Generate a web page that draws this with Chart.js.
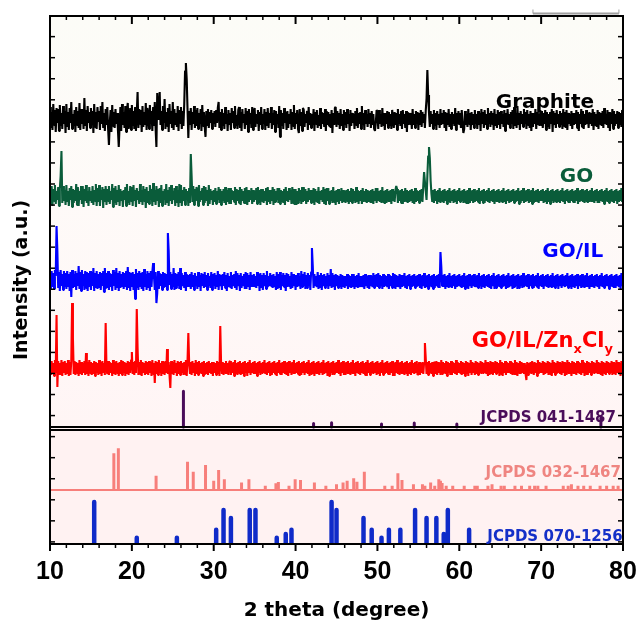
<!DOCTYPE html>
<html><head><meta charset="utf-8">
<script src="https://cdn.jsdelivr.net/npm/chart.js@4.4.1/dist/chart.umd.min.js"></script>
<style>html,body{margin:0;padding:0;background:#fff;}canvas{display:block;}</style>
</head><body>
<canvas id="c" width="636" height="623"></canvas>
<script>
// ---------------- DATA ----------------
// XRD scans sampled from 10° to 80° every 0.1° (701 points); raw counts, background level 40
const START_2THETA = 10, STEP_2THETA = 0.1, BACKGROUND = 40;
const graphite = [
52,31,47,29,55,34,49,27,51,36,
50,28,54,33,46,30,53,35,48,26,
55,32,47,29,51,36,57,30,45,33,
49,27,52,34,48,31,56,29,50,35,
46,30,61,33,49,28,53,36,47,31,
51,34,48,26,55,32,47,30,52,37,
48,29,53,35,57,31,46,28,50,34,
52,30,14,36,49,27,54,33,47,31,
50,35,46,29,12,33,52,28,55,34,
47,31,53,27,49,56,30,36,51,29,
54,33,48,30,52,28,46,67,31,50,
35,49,27,53,32,47,34,56,29,51,
46,30,54,35,48,28,52,33,57,31,
12,66,40,50,67,34,48,29,53,36,
60,30,47,33,51,27,55,35,48,31,
57,29,50,34,46,32,53,28,49,36,
52,30,48,33,55,88,96,80,50,21,
48,34,51,29,47,35,53,31,49,33,
51,30,46,35,50,28,54,33,47,32,
22,48,34,50,31,47,36,49,30,46,
35,48,32,49,36,51,57,31,47,29,
50,33,46,30,52,35,45,28,49,34,
46,29,51,36,48,31,53,33,44,30,
49,52,31,47,28,50,36,45,30,51,
34,48,27,50,35,46,31,52,29,47,
51,32,45,36,49,28,47,34,52,30,
45,35,50,29,47,33,51,31,46,36,
52,30,46,34,49,27,48,35,45,31,
53,22,49,33,46,30,51,36,47,29,
48,31,45,35,50,29,47,33,54,30,
46,35,49,30,26,50,33,47,28,51,
49,32,45,36,48,29,52,34,46,31,
45,34,50,28,47,35,49,31,44,33,
51,30,47,35,46,32,50,28,48,34,
47,33,45,31,49,26,46,35,51,52,
32,48,35,46,30,50,33,45,29,49,
34,47,31,50,35,45,28,49,33,46,
36,45,30,48,34,51,31,46,35,47,
30,53,34,46,29,49,35,45,32,50,
35,46,31,48,34,45,30,28,36,49,
47,30,49,35,45,32,51,34,46,29,
46,35,48,31,47,33,45,30,49,49,
31,47,34,46,29,50,35,45,33,48,
30,49,35,45,31,48,27,47,34,46,
35,46,30,50,34,45,31,48,35,47,
29,46,34,49,32,47,36,45,31,48,
60,89,64,46,32,48,35,45,30,49,
33,46,29,48,35,45,31,50,34,46,
35,49,31,47,28,46,34,50,32,45,
30,47,35,45,33,51,29,46,35,48,
34,46,31,49,35,26,30,48,34,45,
32,50,35,46,29,47,34,45,31,49,
35,45,30,48,34,46,28,50,35,47,
31,49,34,45,30,51,35,46,32,48,
35,46,29,50,33,45,31,49,34,47,
30,48,35,45,32,49,28,46,35,50,
34,45,31,47,35,49,30,52,33,46,
31,53,34,46,29,48,35,45,32,50,
35,47,30,49,34,45,31,48,28,46,
32,46,35,50,30,47,34,45,33,49,
34,48,31,46,35,49,29,47,32,45,
30,47,35,50,27,48,34,46,31,49,
35,45,32,48,34,46,30,50,33,47,
31,49,29,46,35,45,33,48,30,46,
34,46,35,49,31,47,28,45,35,50,
32,48,30,45,34,49,35,46,31,47,
35,46,33,50,29,47,34,45,32,49,
30,47,35,46,33,48,31,51,35,45,
34,49,31,47,28,46,35,50,30,48,
33,45,35,48,31,47,34,46,32,49,
42];
const go = [
48,31,50,30,47,35,51,32,45,36,
49,30,47,60,85,33,50,35,46,31,
51,34,45,30,48,36,50,29,47,33,
46,35,52,31,49,30,45,36,50,32,
50,29,47,35,51,33,45,30,49,36,
45,33,50,31,46,35,52,30,48,34,
51,30,46,36,49,28,47,34,50,31,
47,35,50,32,45,36,52,29,48,33,
50,31,46,34,51,30,47,35,45,29,
46,36,49,30,52,33,45,31,50,35,
49,30,51,35,46,29,48,36,45,32,
52,34,46,31,50,35,47,28,49,33,
45,32,51,36,47,30,53,34,46,31,
50,35,47,29,48,33,51,30,45,36,
47,31,52,34,46,30,49,35,51,32,
45,36,48,30,50,33,46,29,52,34,
51,30,46,35,49,31,47,36,45,30,
48,33,82,60,34,50,31,47,35,49,
46,30,51,34,45,36,48,31,50,33,
49,35,46,30,51,32,47,36,45,31,
46,34,48,32,45,36,49,33,47,31,
45,35,47,33,49,31,46,34,48,32,
48,32,46,36,45,34,49,31,47,35,
46,33,49,31,47,35,45,33,48,32,
49,31,46,34,45,36,48,32,46,34,
45,36,48,32,49,33,46,31,47,35,
47,33,45,35,48,31,49,34,46,32,
46,35,49,31,47,34,45,36,48,33,
48,32,46,34,45,33,47,31,49,35,
45,34,48,36,46,32,49,33,47,31,
47,31,45,33,48,35,46,32,49,34,
49,35,47,32,45,34,48,36,46,33,
46,33,48,31,47,35,45,33,49,32,
45,36,46,34,49,32,47,31,48,35,
48,32,45,35,46,33,49,34,45,31,
46,34,47,32,45,35,48,33,46,34,
45,33,46,35,47,32,45,34,48,33,
47,35,45,33,49,34,46,32,45,35,
46,32,48,34,45,35,47,33,46,34,
45,34,46,33,47,32,45,35,48,33,
48,35,45,34,46,33,49,34,45,32,
46,33,47,35,45,34,46,32,47,35,
45,34,46,50,47,33,45,35,46,33,
47,32,45,34,48,35,46,33,45,34,
46,35,47,33,45,32,48,34,46,35,
45,33,46,35,47,34,50,64,64,45,
36,60,80,89,78,55,42,34,46,33,
47,35,45,32,46,34,48,33,45,35,
46,33,47,35,45,32,46,34,48,33,
45,35,46,33,47,34,45,32,46,35,
48,34,45,35,46,33,47,34,45,32,
46,32,48,33,45,35,46,33,47,34,
45,35,46,34,48,32,45,35,46,33,
47,33,45,35,46,34,48,33,45,35,
46,34,47,32,45,35,46,34,47,33,
45,35,46,33,48,34,45,32,46,35,
47,33,45,34,46,35,47,33,45,34,
46,35,48,32,45,33,46,35,48,33,
45,34,46,35,47,33,45,34,46,32,
48,33,45,34,46,35,47,33,45,35,
46,35,47,33,45,34,46,32,48,34,
45,32,46,35,47,33,45,35,46,33,
47,34,45,33,46,35,48,34,45,32,
46,35,47,34,45,33,46,35,47,34,
45,33,46,35,48,32,45,34,46,35,
47,34,45,33,46,35,47,33,45,34,
46,35,48,34,45,33,46,35,47,33,
45,33,46,35,47,34,45,32,46,35,
48,34,45,33,46,35,47,34,45,33,
46,35,47,32,45,34,46,35,48,34,
40];
const goIl = [
49,31,50,34,48,32,51,45,95,70,
33,49,30,51,35,47,31,50,34,48,
32,50,35,47,30,49,24,51,33,47,
34,50,31,48,35,55,32,49,30,51,
35,47,31,50,33,49,30,48,34,50,
31,49,35,53,30,48,33,50,32,47,
34,49,31,48,35,50,29,53,32,48,
33,50,31,48,34,47,30,51,35,49,
31,53,34,48,30,50,33,47,35,49,
32,48,34,50,31,54,33,49,30,48,
34,49,31,47,22,52,33,48,31,50,
35,48,32,49,30,52,34,47,31,50,
33,48,30,50,34,49,58,45,31,49,
18,28,50,32,48,35,47,31,49,33,
48,34,47,31,88,70,36,49,32,47,
34,53,31,48,33,47,35,49,32,53,
31,48,35,46,33,49,30,47,34,46,
35,47,32,49,34,46,31,48,35,45,
32,49,34,46,30,48,35,47,33,49,
34,46,31,48,35,45,33,49,31,47,
35,48,32,46,34,50,31,47,35,46,
31,47,35,49,33,46,30,48,34,45,
34,49,32,46,35,47,33,50,31,48,
35,46,30,48,33,45,35,47,32,49,
32,48,35,46,31,49,34,46,35,47,
34,45,33,49,35,47,30,48,33,46,
31,48,35,46,32,50,34,45,35,48,
35,46,33,47,34,45,31,49,32,47,
33,49,31,46,35,48,34,46,30,48,
34,47,35,45,32,49,33,47,35,46,
31,46,34,48,35,45,32,50,34,47,
35,49,32,46,33,48,35,46,31,49,
73,55,33,47,35,45,34,49,32,46,
34,48,31,46,35,47,33,45,35,48,
32,46,35,52,33,48,34,46,31,47,
35,46,33,45,34,47,32,46,35,45,
33,45,35,47,32,46,34,45,33,47,
34,47,32,45,35,46,33,48,34,45,
35,45,34,46,32,47,35,45,33,46,
32,46,35,45,34,48,33,46,35,47,
34,48,33,46,35,45,32,47,34,46,
35,45,34,47,32,46,35,45,33,48,
33,47,32,46,35,45,34,47,32,46,
34,46,35,48,33,45,32,46,35,47,
32,45,34,46,35,47,33,45,34,46,
35,47,33,45,32,46,35,48,33,45,
34,46,32,47,35,45,34,46,32,47,
33,45,35,46,34,47,33,69,55,35,
46,34,47,32,45,35,46,33,48,34,
45,33,46,35,47,32,45,34,46,35,
47,35,45,33,46,34,48,32,45,33,
46,32,47,35,45,33,46,35,47,34,
45,34,46,33,48,35,45,32,46,35,
47,33,45,35,46,34,47,33,45,32,
46,35,48,32,45,33,46,35,47,34,
45,33,46,34,47,35,45,32,46,33,
48,34,45,35,46,32,47,34,45,35,
46,32,47,33,45,35,46,33,48,34,
45,35,46,34,47,32,45,35,46,33,
47,33,45,35,46,34,48,32,45,35,
46,34,47,32,45,35,46,34,47,33,
45,35,46,33,48,34,45,33,46,35,
47,32,45,35,46,33,47,35,45,34,
46,35,48,33,45,34,46,32,47,35,
45,33,46,35,47,32,45,35,46,33,
47,34,45,33,46,35,48,34,45,32,
46,35,47,34,45,33,46,35,47,34,
45,32,46,35,48,34,45,33,46,35,
47,35,45,32,46,35,47,34,45,33,
46,33,47,35,45,34,46,32,48,35,
40];
const goIlZn = [
46,33,47,34,45,32,48,35,93,21,
47,34,45,33,48,32,46,35,47,33,
45,34,48,32,46,33,47,105,70,34,
47,33,46,35,45,32,48,34,46,33,
45,35,47,33,55,34,46,32,48,35,
46,33,45,34,47,32,46,35,45,33,
48,34,46,32,47,35,45,33,85,40,
34,47,33,46,35,45,32,48,34,46,
33,47,35,45,32,46,34,48,33,47,
35,46,32,45,34,47,33,46,35,48,
56,34,46,33,47,35,99,60,33,46,
34,48,32,46,35,45,33,47,34,46,
33,47,35,46,32,48,34,45,25,47,
34,46,33,48,35,45,32,47,34,46,
33,47,35,59,34,46,33,20,47,34,
46,33,48,35,45,32,47,34,46,33,
47,35,45,33,46,34,48,32,47,75,
45,34,46,33,47,35,45,32,48,34,
46,33,47,35,45,34,46,32,47,33,
45,34,46,33,47,35,45,34,46,32,
46,35,45,33,47,34,46,32,82,45,
34,46,33,45,35,47,34,45,33,46,
47,33,45,35,46,32,48,34,45,33,
46,35,47,33,45,34,46,32,47,35,
45,32,46,35,48,33,45,35,46,34,
47,34,45,32,46,35,47,33,45,35,
46,35,48,34,45,33,46,35,47,32,
45,33,46,35,47,34,45,32,46,35,
48,34,45,33,46,35,47,34,45,33,
46,32,47,35,45,33,46,35,48,34,
45,35,46,34,47,32,45,33,46,35,
47,33,45,35,46,34,48,32,45,34,
46,34,47,32,45,35,46,34,47,33,
45,35,46,33,48,34,45,35,46,32,
47,32,45,35,46,33,47,34,45,35,
46,35,48,34,45,32,46,35,47,33,
45,33,46,35,47,34,45,33,46,35,
48,34,45,32,46,35,47,34,45,33,
46,35,47,34,45,33,46,32,48,35,
45,33,46,35,47,34,45,35,46,33,
47,34,45,32,46,35,48,33,45,34,
46,35,47,34,45,33,46,35,47,32,
45,32,46,35,48,34,45,33,46,35,
47,34,45,33,46,35,47,32,45,34,
46,33,48,35,45,34,46,35,47,33,
34,46,33,45,35,46,34,45,65,50,
34,46,33,47,35,45,34,46,32,46,
45,34,47,33,46,35,45,33,48,34,
46,35,45,34,47,32,46,35,45,33,
47,33,46,35,45,34,48,33,46,35,
45,35,47,33,46,34,45,32,47,34,
46,32,45,35,48,33,46,35,45,33,
47,34,46,33,45,35,47,34,46,35,
45,35,48,34,46,32,45,33,47,34,
46,33,45,35,47,34,46,35,45,32,
48,34,46,32,45,35,47,33,46,35,
45,35,47,34,46,33,45,34,48,33,
46,32,45,35,47,34,46,35,45,34,
45,34,28,46,33,45,35,46,34,47,
47,33,46,35,45,32,48,34,46,35,
45,35,47,33,46,34,45,35,47,33,
46,34,45,32,48,35,46,33,45,34,
47,35,46,34,45,33,47,35,46,32,
45,33,48,35,46,34,45,32,47,35,
46,34,45,33,47,35,46,34,45,33,
48,35,46,32,45,34,47,33,46,35,
45,33,47,35,46,34,45,35,48,34,
46,34,45,33,47,32,46,35,45,33,
47,35,46,34,45,35,47,33,46,34,
45,33,48,35,46,34,45,32,47,35,
40];

// Reference patterns: 2θ positions and relative intensities (%)
const jcpds041Pos = [26.3, 42.2, 44.4, 50.5, 54.5, 59.7, 77.3];
const jcpds041Int = [100, 10, 12, 8, 11, 8, 25];
const jcpds032Pos = [17.8,18.35,22.96,26.8,27.5,29.0,30.0,30.6,31.3,33.4,34.3,36.3,37.6,37.9,39.2,39.95,40.6,42.3,43.7,45.0,45.8,46.3,47.1,47.5,48.4,50.9,51.8,52.5,53.0,54.4,55.5,55.8,56.5,57.0,57.5,57.7,57.9,58.4,59.2,60.6,61.9,62.2,63.5,64.0,65.1,65.5,66.8,67.6,68.6,69.2,69.6,70.6,72.7,73.3,73.7,74.5,75.2,76.0,77.2,78.0,78.8,79.4];
const jcpds032Int = [88,100,34,68,44,60,22,48,26,18,26,10,16,19,10,26,24,18,10,14,18,22,28,20,44,10,10,40,24,14,14,10,18,10,26,22,17,10,10,10,10,10,10,14,10,10,10,10,10,10,10,10,10,10,14,10,10,10,10,10,10,10];
const jcpds070Pos = [15.4,20.6,25.5,30.3,31.2,32.1,34.4,35.1,37.7,38.8,39.5,44.4,45.0,48.3,49.3,50.5,51.4,52.8,54.6,56.0,57.2,58.1,58.6,61.2];
const jcpds070Int = [100,15,15,34,81,62,81,81,15,24,34,100,81,62,34,15,34,34,81,62,62,24,81,34];

const X_TICKS = [10,20,30,40,50,60,70,80];
const X_TITLE = '2 theta (degree)';
const Y_TITLE = 'Intensity (a.u.)';

// ---------------- LAYOUT (axis units) ----------------
const Y_MAX = 25.08, COUNTS_PER_UNIT = 21.05;
const OFF_GRAPHITE = 20.19, OFF_GO = 16.53, OFF_GOIL = 12.49, OFF_ZN = 8.36;
const P041_BASE = 5.56, P041_FULL = 1.69, PANEL2_TOP = 5.42;
const P032_BASE = 2.565, P032_FULL = 1.98;
const P070_BASE = 0, P070_FULL = 2.0;

function trace(vals, off){
  return vals.map((v,i)=>({x: START_2THETA + i*STEP_2THETA, y: off + (v-BACKGROUND)/COUNTS_PER_UNIT}));
}
function sticks(pos, rel, base, full){
  const d=[];
  pos.forEach((p,i)=>{ d.push({x:p,y:base},{x:p,y:base+rel[i]/100*full},{x:p,y:null}); });
  return d;
}

const FONT_LBL = '"DejaVu Sans", sans-serif';
const decor = {
  id:'decor',
  beforeDatasetsDraw(chart){
    const {ctx, chartArea:a, scales:{y}} = chart;
    const ys = y.getPixelForValue(P041_BASE);
    ctx.save();
    const g = ctx.createLinearGradient(0,a.top,0,ys);
    g.addColorStop(0,'#fcfcf7'); g.addColorStop(0.45,'#fefaf8'); g.addColorStop(1,'#fff5f5');
    ctx.fillStyle=g; ctx.fillRect(a.left,a.top,a.right-a.left,ys-a.top);
    ctx.fillStyle='#fff2f2'; ctx.fillRect(a.left,ys,a.right-a.left,a.bottom-ys);
    const yb = y.getPixelForValue(P032_BASE);
    ctx.strokeStyle='#f77f7b'; ctx.lineWidth=2;
    ctx.beginPath(); ctx.moveTo(a.left,yb); ctx.lineTo(a.right,yb); ctx.stroke();
    ctx.restore();
  },
  afterDatasetsDraw(chart){
    const {ctx, chartArea:a, scales:{x,y}} = chart;
    ctx.save();
    ctx.strokeStyle='#000'; ctx.lineWidth=2;
    [P041_BASE, PANEL2_TOP].forEach(v=>{const p=y.getPixelForValue(v);ctx.beginPath();ctx.moveTo(a.left,p);ctx.lineTo(a.right,p);ctx.stroke();});
    ctx.strokeRect(a.left,a.top,a.right-a.left,a.bottom-a.top);
    for(let v=10; v<=80; v+=2){
      const px=x.getPixelForValue(v), major=(v%10===0);
      ctx.lineWidth = major?2:1.5;
      ctx.beginPath(); ctx.moveTo(px,a.bottom); ctx.lineTo(px,a.bottom+(major?7:4)); ctx.stroke();
      ctx.beginPath(); ctx.moveTo(px,a.top); ctx.lineTo(px,a.top+(major?8:4)); ctx.stroke();
    }
    ctx.lineWidth=1.5;
    for(let k=0;k<=24;k++){
      const py=y.getPixelForValue(0.1+k);
      ctx.beginPath(); ctx.moveTo(a.left,py); ctx.lineTo(a.left+5,py); ctx.stroke();
      ctx.beginPath(); ctx.moveTo(a.right,py); ctx.lineTo(a.right-5,py); ctx.stroke();
    }
    const gx1=x.getPixelForValue(69.0), gx2=x.getPixelForValue(79.5), gy=a.top-2.5;
    ctx.strokeStyle='#a0a0a0'; ctx.lineWidth=2;
    ctx.beginPath(); ctx.moveTo(gx1,gy); ctx.lineTo(gx2,gy); ctx.stroke();
    ctx.lineWidth=1;
    ctx.beginPath(); ctx.moveTo(gx1,gy); ctx.lineTo(gx1,gy-4); ctx.moveTo(gx2,gy); ctx.lineTo(gx2,gy-4); ctx.stroke();
    ctx.textAlign='right'; ctx.textBaseline='alphabetic';
    const lab=(t,c,tx,ty,f)=>{ctx.font=f;ctx.fillStyle=c;ctx.fillText(t,x.getPixelForValue(tx),y.getPixelForValue(ty));};
    const F20='bold 20px '+FONT_LBL, F15='bold 15px '+FONT_LBL;
    lab('Graphite','#000000',76.46,20.70,F20);
    lab('GO','#0a5c3a',76.37,17.21,F20);
    lab('GO/IL','#0000ff',77.59,13.65,F20);
    const parts=[['GO/IL/Zn',0],['x',1],['Cl',0],['y',1]];
    const Fsub='bold 13px '+FONT_LBL, FZ='bold 21px '+FONT_LBL;
    let w=0; parts.forEach(p=>{ctx.font=p[1]?Fsub:FZ; w+=ctx.measureText(p[0]).width;});
    let cx=x.getPixelForValue(78.78)-w; const by=y.getPixelForValue(9.37);
    ctx.textAlign='left'; ctx.fillStyle='#ff0000';
    parts.forEach(p=>{ctx.font=p[1]?Fsub:FZ; ctx.fillText(p[0],cx,by+(p[1]?6:0)); cx+=ctx.measureText(p[0]).width;});
    ctx.textAlign='right';
    lab('JCPDS 041-1487','#4a0d5a',79.14,5.81,F15);
    lab('JCPDS 032-1467','#ef8581',79.75,3.17,F15);
    lab('JCPDS 070-1256','#1530c8',79.96,0.157,F15);
    ctx.restore();
  }
};

const lineDs = (data,color,w)=>({data,borderColor:color,borderWidth:w,pointRadius:0,showLine:true,borderJoinStyle:'bevel',tension:0,spanGaps:false});
const stickDs = (data,color,w,cap)=>Object.assign(lineDs(data,color,w),{borderCapStyle:cap});

new Chart(document.getElementById('c'),{
  type:'scatter',
  data:{datasets:[
    lineDs(trace(graphite,OFF_GRAPHITE),'#000000',2.1),
    lineDs(trace(go,OFF_GO),'#0a5c3a',2.1),
    lineDs(trace(goIl,OFF_GOIL),'#0000ff',2.1),
    lineDs(trace(goIlZn,OFF_ZN),'#ff0000',2.1),
    stickDs(sticks(jcpds041Pos,jcpds041Int,P041_BASE,P041_FULL),'#4a0d5a',3,'round'),
    stickDs(sticks(jcpds032Pos,jcpds032Int,P032_BASE,P032_FULL),'#f77f7b',3,'butt'),
    stickDs(sticks(jcpds070Pos,jcpds070Int,P070_BASE,P070_FULL),'#0f2bc9',4.5,'round')
  ]},
  options:{
    responsive:false, devicePixelRatio:1, animation:false,
    layout:{padding:{top:16,right:13,left:0,bottom:0}},
    plugins:{legend:{display:false},tooltip:{enabled:false}},
    scales:{
      x:{type:'linear',position:'bottom',min:10,max:80,
        afterBuildTicks:s=>{s.ticks=X_TICKS.map(v=>({value:v}));},
        ticks:{font:{family:'"Liberation Sans", Arial, sans-serif',weight:'bold',size:25},color:'#000',padding:13,maxRotation:0,autoSkip:false},
        grid:{display:false,drawTicks:false},border:{display:false},
        title:{display:true,text:X_TITLE,color:'#000',font:{family:FONT_LBL,weight:'bold',size:20},padding:{top:0,bottom:0}},
        afterFit:s=>{s.height=79;s.paddingLeft=0;s.paddingRight=0;}},
      y:{type:'linear',min:0,max:Y_MAX,
        ticks:{display:false},grid:{display:false,drawTicks:false},border:{display:false},
        title:{display:true,text:Y_TITLE,color:'#000',font:{family:FONT_LBL,weight:'bold',size:19},padding:{top:11,bottom:0}},
        afterFit:s=>{s.width=50;}}
    }
  },
  plugins:[decor]
});
</script></body></html>
